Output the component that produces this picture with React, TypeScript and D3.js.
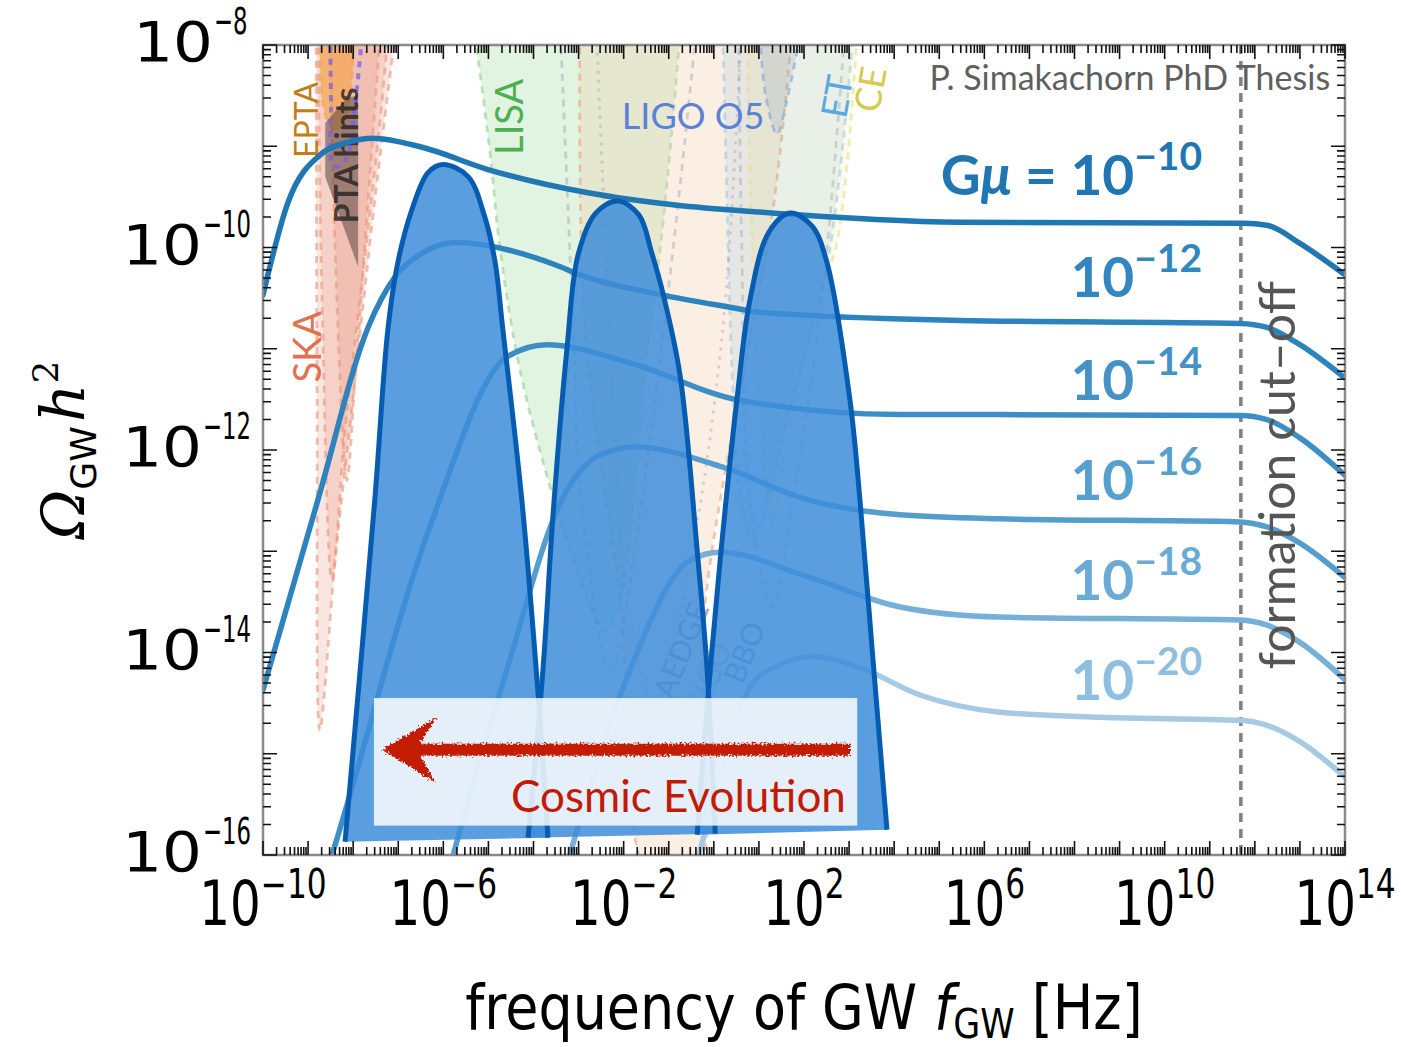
import React from 'react';
import * as d3 from 'd3';

const W = 1401;
const H = 1047;

// string GW spectra, points are [log10 f/Hz, log10 Omega h^2]
const gmu10 = [[-10, -10.47], [-9.45, -9.56], [-8.69, -9.07], [-8.11, -8.96], [-7.58, -8.92], [-6.47, -9.01], [-5.01, -9.23], [-2.79, -9.46], [-0.86, -9.58], [1.02, -9.65], [5.46, -9.75], [11.74, -9.76], [12.27, -9.78], [13.0, -9.96], [14.0, -10.27]];
const gmu12 = [[-10, -14.37], [-8.78, -12.49], [-7.67, -10.79], [-7.07, -10.29], [-6.52, -10.07], [-5.74, -9.95], [-3.52, -10.17], [-2.97, -10.27], [-1.13, -10.47], [0.36, -10.59], [1.02, -10.64], [5.46, -10.72], [11.67, -10.75], [12.27, -10.79], [13.0, -10.96], [14.0, -11.29]];
const gmu14 = [[-8.74, -16.38], [-8.47, -16.0], [-6.3, -12.76], [-4.59, -11.08], [-3.7, -10.96], [-1.86, -11.14], [0.58, -11.51], [4.13, -11.65], [6.35, -11.65], [11.67, -11.66], [12.27, -11.7], [13.0, -11.88], [14.0, -12.25]];
const gmu16 = [[-5.96, -16.3], [-5.81, -16.05], [-4.59, -14.17], [-3.37, -12.49], [-2.53, -12.05], [-1.75, -11.97], [0.2, -12.17], [2.07, -12.49], [4.13, -12.64], [6.35, -12.68], [11.67, -12.71], [12.27, -12.76], [13.0, -12.92], [14.0, -13.26]];
const gmu18 = [[-3.23, -16.05], [-1.86, -14.17], [-0.53, -13.09], [0.14, -13.01], [2.07, -13.25], [4.13, -13.55], [6.35, -13.65], [11.67, -13.68], [12.27, -13.73], [13.0, -13.9], [14.0, -14.27]];
const gmu20 = [[-0.37, -16.05], [0.18, -15.21], [0.8, -14.34], [1.47, -14.12], [2.2, -14.04], [3.24, -14.15], [4.57, -14.42], [6.35, -14.59], [8.57, -14.64], [11.67, -14.67], [12.27, -14.72], [13.0, -14.88], [14.0, -15.23]];

const gmuExp = ['10', '12', '14', '16', '18', '20'];
const gmuColors = ['#1f77b4', '#2c83bd', '#3d8ec5', '#559dcd', '#76afd7', '#a7cae4'];
const gmuLabelColors = ['#1f76b3', '#3387c0', '#4592c7', '#56a0cf', '#6aabd5', '#8ebfe0'];
const gmuLabelY = [-9.48, -10.49, -11.51, -12.49, -13.48, -14.47];

// blue bumps (phase-transition like signals)
const bump1 = [[-8.18, -15.87], [-7.52, -12.49], [-7.23, -10.81], [-7.01, -10.15], [-6.7, -9.63], [-6.34, -9.26], [-6.01, -9.18], [-5.45, -9.3], [-5.08, -9.7], [-4.85, -10.15], [-4.68, -10.81], [-4.26, -12.49], [-3.9, -14.4], [-3.68, -15.83]];
const bump2 = [[-4.12, -15.83], [-3.79, -14.17], [-3.57, -12.66], [-3.26, -11.01], [-3.01, -10.07], [-2.62, -9.66], [-2.13, -9.54], [-1.66, -9.68], [-1.38, -10.05], [-1.13, -10.45], [-0.75, -11.26], [-0.37, -12.99], [-0.15, -14.17], [0.03, -15.79]];
const bump3 = [[-0.37, -15.8], [-0.13, -14.44], [0.14, -13.09], [0.51, -11.51], [0.8, -10.52], [1.22, -9.85], [1.69, -9.66], [2.18, -9.79], [2.51, -10.15], [3.02, -11.51], [3.24, -12.49], [3.53, -14.07], [3.84, -15.75]];

// experiment sensitivity regions
const skaA = [[-8.82, -7.9], [-8.8, -11.51], [-8.74, -14.77], [-8.4, -13.09], [-7.96, -11.31], [-7.52, -9.53], [-7.07, -7.9]];
const skaB = [[-8.78, -7.9], [-8.69, -10.52], [-8.47, -13.28], [-8.18, -11.8], [-7.8, -10.32], [-7.4, -8.74], [-7.23, -7.9]];
const skaC = [[-8.51, -7.9], [-8.4, -10.02], [-8.14, -12.3], [-7.96, -11.31], [-7.67, -9.53], [-7.4, -7.9]];
const epta = [[-8.74, -7.9], [-8.69, -8.54], [-8.56, -8.76], [-8.38, -8.84], [-8.18, -8.74], [-8.05, -8.44], [-7.98, -7.9]];
const ptaHints = [[-8.62, -8.77], [-8.18, -8.54], [-7.89, -8.49], [-7.89, -10.19], [-8.62, -9.3]];
const nanograv = [[-8.51, -7.9], [-8.49, -8.6], [-8.47, -9.17], [-8.34, -9.2], [-8.14, -9.11], [-7.96, -8.6], [-7.8, -7.9]];
const lisa = [[-5.3, -7.9], [-4.97, -9.04], [-4.74, -10.02], [-4.3, -11.21], [-3.57, -12.46], [-2.97, -13.28], [-2.53, -13.75], [-2.41, -13.8], [-2.08, -13.48], [-1.7, -12.0], [-1.48, -11.01], [-1.19, -10.02], [-0.97, -9.04], [-0.75, -7.9]];
const muAres = [[-2.97, -7.9], [-2.86, -10.81], [-2.08, -13.48], [-1.42, -16.2], [-0.42, -16.2], [-0.2, -13.55], [1.31, -9.63], [1.73, -7.9]];
const et = [[0.2, -7.9], [0.29, -9.53], [0.4, -11.18], [0.58, -12.49], [0.87, -12.89], [1.69, -11.58], [2.51, -10.19], [3.09, -7.9]];
const ce = [[0.74, -7.9], [0.85, -10.0], [1.1, -12.0], [1.3, -12.7], [1.6, -12.0], [2.3, -10.5], [2.73, -9.96], [3.18, -7.9]];
const ligo = [[1.02, -7.9], [1.15, -8.5], [1.4, -8.88], [1.62, -8.55], [1.91, -7.9]];
const aedge = [[-3.4, -7.9], [-3.1, -11.0], [-2.97, -12.33], [-2.3, -14.17], [-1.6, -12.5], [-0.9, -10.0], [-0.4, -7.9]];
const decigo = [[-2.6, -7.9], [-2.2, -11.8], [-1.9, -13.6], [-1.3, -14.5], [-0.6, -13.3], [0.2, -10.8], [0.6, -7.9]];
const bbo = [[0.55, -7.9], [0.62, -10.0], [0.8, -12.5], [1.3, -13.55], [1.75, -12.5], [2.4, -10.5], [2.9, -7.9]];

const xTickExp = [-10, -6, -2, 2, 6, 10, 14];
const yTickExp = [-8, -10, -12, -14, -16];
const cutoffLogF = 11.69;

const SANS = 'Lato, "Open Sans", sans-serif';
const TICKF = '"DejaVu Sans", sans-serif';

const xs = d3.scaleLog().domain([1e-10, 1e14]).range([263, 1345]);
const ys = d3.scaleLog().domain([1e-16, 1e-8]).range([855, 45]);
const X = (v: number) => xs(Math.pow(10, v));
const Y = (v: number) => ys(Math.pow(10, v));

export default function App() {
  const smooth = d3.line<number[]>().x(d => X(d[0])).y(d => Y(d[1])).curve(d3.curveMonotoneX);
  const soft = d3.line<number[]>().x(d => X(d[0])).y(d => Y(d[1])).curve(d3.curveCatmullRom.alpha(0.5));

  const region = (pts: number[][], fill: string, op: number, stroke: string, key: string, dash = '7 6') => (
    <g key={key}>
      <path d={soft(pts) + 'Z'} fill={fill} fillOpacity={op} />
      <path d={soft(pts) || ''} fill="none" stroke={stroke} strokeWidth={2.8} strokeDasharray={dash} strokeOpacity={0.6} />
    </g>
  );

  // tick path
  let tickPath = '';
  const L = 14, l = 8;
  d3.range(-10, 15).forEach(e => {
    const x = X(e);
    tickPath += `M${x},855v${-L}M${x},45v${L}`;
    if (e < 14) d3.range(2, 10).forEach(k => {
      const xm = X(e + Math.log10(k));
      tickPath += `M${xm},855v${-l}M${xm},45v${l}`;
    });
  });
  d3.range(-16, -7).forEach(e => {
    const y = Y(e);
    tickPath += `M263,${y}h${L}M1345,${y}h${-L}`;
    if (e < -8) d3.range(2, 10).forEach(k => {
      const ym = Y(e + Math.log10(k));
      tickPath += `M263,${ym}h${l}M1345,${ym}h${-l}`;
    });
  });

  const spectra = [gmu10, gmu12, gmu14, gmu16, gmu18, gmu20];
  const bumps = [bump1, bump2, bump3];

  const arrowY = Y(-14.96);
  const arrowTip = X(-7.36);
  const arrowEnd = X(3.02);

  return (
    <div style={{ position: 'absolute', left: 0, top: 0 }}>
      <svg width={W} height={H} viewBox={`0 0 ${W} ${H}`} style={{ display: 'block' }}>
        <defs>
          <clipPath id="plot"><rect x={263} y={45} width={1082} height={810} /></clipPath>
          <filter id="rough" x="-5%" y="-60%" width="110%" height="220%">
            <feTurbulence type="fractalNoise" baseFrequency="0.5" numOctaves="3" seed="5" result="n" />
            <feDisplacementMap in="SourceGraphic" in2="n" scale="8" xChannelSelector="R" yChannelSelector="G" />
          </filter>
        </defs>
        <rect width={W} height={H} fill="#fff" />

        <g clipPath="url(#plot)">
          {region(skaA, '#e57b5c', 0.19, '#e8957a', 'skaA')}
          {region(skaB, '#e57b5c', 0.19, '#e8957a', 'skaB')}
          {region(skaC, '#e57b5c', 0.19, '#e8957a', 'skaC')}
          {region(epta, '#f5a347', 0.65, '#f0a050', 'epta')}
          <path d={d3.line<number[]>().x(d => X(d[0])).y(d => Y(d[1]))(ptaHints) + 'Z'} fill="#4a3a36" fillOpacity={0.5} />
          <path d={soft(nanograv) || ''} fill="none" stroke="#7b5ee8" strokeWidth={4} strokeDasharray="6 6" strokeOpacity={0.75} />
          {region(lisa, '#78c878', 0.22, '#8fd48f', 'lisa')}
          {region(muAres, 'rgb(242,205,172)', 0.32, '#eea27a', 'mu')}
          {region(et, '#64aadc', 0.13, '#9ccbe8', 'et')}
          {region(ce, '#dcd264', 0.12, '#e6df8a', 'ce')}
          {region(ligo, '#7088c0', 0.16, '#86a2dc', 'ligo')}
          <path d={soft(aedge) || ''} fill="none" stroke="#8a8aa8" strokeWidth={2.8} strokeDasharray="7 6" strokeOpacity={0.35} />
          <path d={soft(decigo) || ''} fill="none" stroke="#9090b0" strokeWidth={2.8} strokeDasharray="3 6" strokeOpacity={0.35} />
          <path d={soft(bbo) || ''} fill="none" stroke="#8a9a9a" strokeWidth={2.8} strokeDasharray="7 6" strokeOpacity={0.35} />

          {/* detector labels */}
          <text transform={`translate(${X(-8.78)},${Y(-8.74)}) rotate(-90)`} textAnchor="middle" fontFamily={SANS} fontSize={32} fill="#c47c14">EPTA</text>
          <text transform={`translate(${X(-7.89)},${Y(-9.09)}) rotate(-90)`} textAnchor="middle" fontFamily={SANS} fontSize={32} fontWeight={700} fill="#2a2626" fillOpacity={0.85}>PTA hints</text>
          <text transform={`translate(${X(-8.71)},${Y(-10.98)}) rotate(-90)`} textAnchor="middle" fontFamily={SANS} fontSize={38} fill="#e07252">SKA</text>
          <text transform={`translate(${X(-4.23)},${Y(-8.71)}) rotate(-90)`} textAnchor="middle" fontFamily={SANS} fontSize={38} fill="#4cb050">LISA</text>
          <text x={X(-2.04)} y={Y(-8.83)} fontFamily={SANS} fontSize={36} fill="#5b82d6">LIGO O5</text>
          <text transform={`translate(${X(2.75)},${Y(-8.51)}) rotate(-80)`} textAnchor="middle" dy={12} fontFamily={SANS} fontSize={36} fill="#5aa9df">ET</text>
          <text transform={`translate(${X(3.49)},${Y(-8.44)}) rotate(-80)`} textAnchor="middle" dy={12} fontFamily={SANS} fontSize={36} fill="#d6cb4e">CE</text>
          <text transform={`translate(${X(-0.71)},${Y(-13.98)}) rotate(-68)`} textAnchor="middle" dy={10} fontFamily={SANS} fontSize={30} fill="#7a7aa8" fillOpacity={0.7}>AEDGE</text>
          <text transform={`translate(${X(-0.26)},${Y(-14.44)}) rotate(-68)`} textAnchor="middle" dy={10} fontFamily={SANS} fontSize={30} fill="#9a9ab8" fillOpacity={0.45}>DECIGO</text>
          <text transform={`translate(${X(0.69)},${Y(-14.0)}) rotate(-68)`} textAnchor="middle" dy={10} fontFamily={SANS} fontSize={30} fill="#7a7a9a" fillOpacity={0.7}>BBO</text>

          {/* formation cut-off */}
          <line x1={X(cutoffLogF)} x2={X(cutoffLogF)} y1={45} y2={860} stroke="#808080" strokeWidth={3.5} strokeDasharray="9 7" />

          {/* string spectra */}
          {spectra.map((s, i) => (
            <path key={'s' + i} d={smooth(s) || ''} fill="none" stroke={gmuColors[i]} strokeWidth={5.5} strokeLinecap="round" />
          ))}

          {/* bumps */}
          {bumps.map((b, i) => (
            <path key={'bf' + i} d={soft(b) + 'Z'} fill="#3e8ddb" fillOpacity={0.85} />
          ))}
          {bumps.map((b, i) => (
            <path key={'bs' + i} d={soft(b) || ''} fill="none" stroke="#065cb0" strokeWidth={5} />
          ))}

          {/* cosmic evolution box */}
          <rect x={X(-7.54)} y={Y(-14.45)} width={X(3.18) - X(-7.54)} height={Y(-15.71) - Y(-14.45)} fill="#fff" fillOpacity={0.84} />
          <g filter="url(#rough)" fill="#c31a06">
            <rect x={arrowTip + 32} y={arrowY - 6} width={arrowEnd - arrowTip - 32} height={12} />
            <polygon points={`${arrowTip},${arrowY} ${arrowTip + 54},${arrowY - 32} ${arrowTip + 36},${arrowY - 3} ${arrowTip + 36},${arrowY + 3} ${arrowTip + 54},${arrowY + 33}`} />
          </g>
          <text x={X(2.93)} y={Y(-15.58)} textAnchor="end" fontFamily={SANS} fontSize={44} fill="#c31a06">Cosmic Evolution</text>
        </g>

        {/* frame and ticks */}
        <rect x={263} y={45} width={1082} height={810} fill="none" stroke="#8a8a8a" strokeWidth={2.5} />
        <path d={tickPath} stroke="#111" strokeWidth={1.6} fill="none" />

        {/* curve labels */}
        {gmuExp.map((e, i) => (
          <text key={'gl' + i} x={X(10.83)} y={Y(gmuLabelY[i])} textAnchor="end" fontFamily={SANS} fontWeight={700} fontSize={55} fill={gmuLabelColors[i]}>
            {i === 0 ? <tspan>G<tspan fontStyle="italic">μ</tspan> = </tspan> : null}
            10<tspan dy={-25} fontSize={39}>−{e}</tspan>
          </text>
        ))}

        <text x={X(13.67)} y={Y(-8.44)} textAnchor="end" fontFamily={SANS} fontSize={34} fill="#5f5f5f">P. Simakachorn PhD Thesis</text>
        <text transform={`translate(${X(12.89)},${Y(-12.25)}) rotate(-90)`} textAnchor="middle" fontFamily={SANS} fontSize={50} fill="#555">formation cut–off</text>

        {/* x tick labels */}
        {xTickExp.map(e => (
          <g key={'xt' + e} transform={`translate(${X(e)},925) scale(0.78,1)`}>
            <text textAnchor="middle" fontFamily={TICKF} fontSize={62} fill="#000">
              10<tspan dy={-27} fontSize={40}>{e < 0 ? '−' + -e : String(e)}</tspan>
            </text>
          </g>
        ))}

        {/* y tick labels */}
        {yTickExp.map(e => {
          const split = 247 - (e <= -10 ? 45 : 34);
          return (
            <g key={'yt' + e}>
              <g transform={`translate(${split},${Y(e) + 16}) scale(1.12,1)`}>
                <text textAnchor="end" fontFamily={TICKF} fontSize={56} fill="#000">10</text>
              </g>
              <g transform={`translate(${split + 1},${Y(e) - 11}) scale(0.6,1)`}>
                <text textAnchor="start" fontFamily={TICKF} fontSize={38} fill="#000">−{-e}</text>
              </g>
            </g>
          );
        })}

        {/* axis titles */}
        <g transform="translate(804,1029) scale(0.87,1)">
          <text textAnchor="middle" fontFamily={TICKF} fontSize={62} fill="#000">
            frequency of GW <tspan fontStyle="italic">f</tspan><tspan fontSize={40} dy={9}>GW</tspan><tspan dy={-9}> [Hz]</tspan>
          </text>
        </g>
        <text transform="translate(84,450) rotate(-90)" textAnchor="middle" fontSize={60} fill="#000">
          <tspan fontFamily='"DejaVu Serif", serif' fontStyle="italic">Ω</tspan>
          <tspan fontFamily={TICKF} fontSize={36} dy={12}>GW</tspan>
          <tspan fontFamily='"DejaVu Serif", serif' fontStyle="italic" dy={-12} dx={4}>h</tspan>
          <tspan fontFamily='"DejaVu Serif", serif' fontSize={36} dy={-26}>2</tspan>
        </text>
      </svg>
    </div>
  );
}
